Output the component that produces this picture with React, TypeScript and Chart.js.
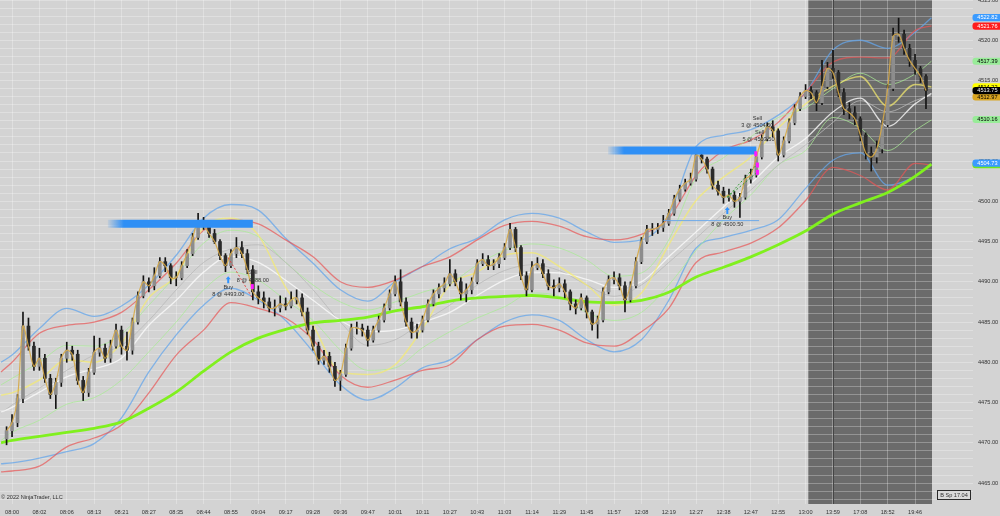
import { useEffect, useRef } from 'react';
import { Chart, registerables } from 'chart.js';

Chart.register(...registerables);

// ---------- DATA ----------
const TIME_LABELS = ['08:00','08:02','08:06','08:13','08:21','08:27','08:35','08:44','08:55','09:04','09:17','09:28','09:36','09:47','10:01','10:11','10:27','10:43','11:03','11:14','11:29','11:45','11:57','12:08','12:19','12:27','12:38','12:47','12:55','13:00','13:59','17:08','18:52','19:46'];
const BARS_PER_LABEL = 5;
const FIRST_BAR = -1;
const FIRST_OPEN = 4470.5;

const CLOSES = [
  4471.5, 4472.5, 4475.5, 4484.5, 4482.0, 4479.5, 4480.5, 4478.0, 4476.0, 4477.5,
  4480.5, 4481.5, 4481.0, 4477.75, 4476.25, 4478.75, 4481.25, 4481.75, 4480.5, 4482.0,
  4484.0, 4482.0, 4481.5, 4485.0, 4488.25, 4490.0, 4489.5, 4490.75, 4492.5, 4492.0,
  4490.5, 4490.5, 4492.0, 4493.5, 4495.5, 4497.5, 4497.0, 4496.0, 4495.0, 4493.25,
  4492.0, 4493.5, 4494.25, 4493.5, 4491.5, 4488.75, 4488.0, 4487.5, 4486.75, 4486.75,
  4487.25, 4487.0, 4487.75, 4488.0, 4486.25, 4484.0, 4482.0, 4480.25, 4480.75, 4479.5,
  4477.75, 4478.5, 4481.75, 4484.25, 4484.25, 4484.0, 4482.75, 4484.0, 4485.25, 4486.75,
  4488.5, 4490.0, 4487.5, 4485.0, 4483.75, 4484.0, 4485.25, 4487.25, 4488.5, 4489.25,
  4489.75, 4491.0, 4490.0, 4488.5, 4489.0, 4490.0, 4492.25, 4492.75, 4492.0, 4492.25,
  4493.0, 4494.25, 4496.5, 4494.25, 4490.75, 4489.0, 4491.75, 4492.25, 4491.0, 4489.5,
  4489.25, 4489.75, 4488.75, 4487.25, 4486.75, 4488.0, 4486.25, 4484.75, 4485.25, 4488.75,
  4490.25, 4490.5, 4489.5, 4487.75, 4489.5, 4492.5, 4495.0, 4496.5, 4496.5, 4496.75,
  4497.25, 4498.5, 4500.25, 4501.5, 4502.25, 4502.75, 4505.75, 4505.25, 4504.0, 4502.0,
  4501.25, 4500.5, 4500.75, 4500.0, 4500.5, 4502.75, 4503.25, 4505.5, 4507.75, 4509.25,
  4508.75, 4505.75, 4507.5, 4509.75, 4511.5, 4513.0, 4513.75, 4513.5, 4512.25, 4514.25,
  4516.5, 4516.0, 4513.5, 4511.5, 4511.0, 4510.25, 4508.25, 4506.0, 4505.5, 4506.5,
  4509.5, 4514.0, 4520.5, 4520.75, 4519.0, 4517.5, 4516.5, 4515.5, 4513.75
];
const HIGHS = [
  4472.0, 4473.5, 4476.0, 4486.25, 4485.5, 4482.5, 4481.75, 4481.0, 4478.5, 4478.0,
  4481.0, 4482.5, 4482.0, 4481.5, 4478.25, 4479.25, 4483.25, 4483.0, 4482.25, 4482.75,
  4484.75, 4484.5, 4483.75, 4485.5, 4488.75, 4490.75, 4490.5, 4491.75, 4493.0, 4493.0,
  4492.25, 4491.25, 4492.5, 4494.0, 4496.0, 4498.5, 4498.0, 4497.5, 4496.5, 4495.25,
  4493.5, 4494.0, 4495.5, 4495.0, 4494.0, 4492.0, 4489.5, 4488.75, 4488.0, 4487.75,
  4488.25, 4488.0, 4488.75, 4489.0, 4488.5, 4486.75, 4484.5, 4482.5, 4481.5, 4481.25,
  4480.0, 4479.0, 4482.25, 4484.75, 4485.0, 4484.75, 4484.5, 4484.5, 4485.75, 4487.25,
  4489.0, 4490.75, 4491.5, 4488.0, 4485.5, 4484.75, 4485.75, 4487.75, 4489.0, 4489.75,
  4490.5, 4492.75, 4491.5, 4490.5, 4489.75, 4490.5, 4492.75, 4493.5, 4493.25, 4492.75,
  4493.5, 4494.75, 4497.25, 4496.75, 4494.5, 4491.25, 4492.5, 4493.0, 4492.75, 4491.5,
  4490.25, 4490.5, 4490.25, 4489.0, 4487.75, 4488.5, 4488.25, 4486.5, 4485.75, 4489.25,
  4490.75, 4491.25, 4491.0, 4490.0, 4490.0, 4493.0, 4495.5, 4497.0, 4497.25, 4497.25,
  4498.25, 4499.0, 4500.75, 4502.0, 4502.75, 4503.5, 4506.5, 4506.25, 4505.5, 4504.25,
  4502.5, 4501.75, 4501.5, 4501.25, 4501.0, 4503.25, 4504.0, 4506.0, 4508.25, 4509.75,
  4510.0, 4509.0, 4508.0, 4510.25, 4512.0, 4513.5, 4514.5, 4514.25, 4513.75, 4517.5,
  4517.25, 4518.75, 4516.25, 4514.0, 4512.25, 4511.75, 4510.5, 4508.5, 4506.75, 4507.5,
  4510.0, 4514.5, 4521.5, 4522.75, 4521.25, 4519.5, 4518.25, 4516.75, 4515.75
];
const LOWS = [
  4469.75, 4470.75, 4472.0, 4475.0, 4481.5, 4479.0, 4479.0, 4477.5, 4475.5, 4474.25,
  4477.0, 4480.0, 4480.25, 4477.25, 4475.25, 4475.75, 4478.5, 4480.75, 4480.0, 4480.0,
  4481.75, 4481.0, 4480.25, 4481.0, 4484.75, 4488.0, 4488.75, 4489.0, 4490.5, 4491.25,
  4489.75, 4489.5, 4490.25, 4491.75, 4493.25, 4495.25, 4496.5, 4495.5, 4494.75, 4492.75,
  4491.25, 4491.75, 4493.0, 4493.0, 4491.0, 4487.75, 4487.25, 4486.75, 4486.25, 4485.75,
  4486.25, 4486.5, 4486.75, 4487.25, 4485.75, 4483.5, 4481.5, 4479.75, 4479.75, 4478.75,
  4477.0, 4476.5, 4478.25, 4481.5, 4483.5, 4483.25, 4482.0, 4482.5, 4483.75, 4485.0,
  4486.5, 4488.25, 4487.0, 4484.5, 4483.0, 4483.0, 4483.75, 4485.0, 4487.0, 4488.0,
  4488.75, 4489.5, 4489.5, 4487.75, 4487.5, 4488.5, 4489.75, 4492.0, 4491.5, 4491.5,
  4491.75, 4492.75, 4494.0, 4493.75, 4490.25, 4488.25, 4488.75, 4491.5, 4490.5, 4489.0,
  4488.25, 4488.75, 4488.0, 4486.5, 4486.0, 4486.5, 4485.5, 4484.0, 4483.0, 4485.0,
  4488.5, 4489.75, 4489.0, 4486.25, 4487.5, 4489.25, 4492.25, 4494.75, 4495.75, 4496.0,
  4496.25, 4497.0, 4498.25, 4500.0, 4501.25, 4502.0, 4502.5, 4504.75, 4503.5, 4501.5,
  4500.75, 4499.75, 4500.0, 4499.25, 4498.0, 4500.25, 4502.25, 4503.0, 4505.25, 4507.5,
  4508.0, 4505.0, 4505.5, 4507.25, 4509.5, 4511.25, 4512.75, 4512.75, 4511.25, 4512.0,
  4514.0, 4515.25, 4513.0, 4510.75, 4510.25, 4509.5, 4507.5, 4505.25, 4503.75, 4504.75,
  4506.0, 4509.25, 4513.75, 4519.75, 4518.25, 4516.75, 4515.75, 4514.75, 4511.5
];

// indicator lines, read at these bar positions
const BAND_X = [-2, 0, 5, 10, 15, 20, 25, 30, 35, 40, 45, 50, 55, 60, 65, 70, 75, 80, 85, 90, 95, 100, 105, 110, 115, 120, 125, 130, 135, 140, 145, 150, 155, 160, 165, 168];
const BLUE_UPPER = [4480.0, 4480.9, 4484.2, 4486.7, 4485.7, 4487.0, 4489.6, 4493.3, 4497.9, 4499.6, 4498.9, 4495.4, 4492.3, 4489.0, 4487.6, 4490.0, 4491.9, 4494.1, 4495.4, 4497.7, 4498.5, 4497.9, 4496.2, 4494.9, 4495.2, 4498.3, 4506.8, 4508.2, 4508.9, 4510.7, 4513.5, 4518.8, 4520.0, 4519.0, 4521.0, 4522.8];
const RED_UPPER = [4478.8, 4480.0, 4483.6, 4484.6, 4485.0, 4486.2, 4489.0, 4492.3, 4496.4, 4497.7, 4497.2, 4495.2, 4493.1, 4490.0, 4489.3, 4490.2, 4491.9, 4493.1, 4495.2, 4497.0, 4497.5, 4496.9, 4495.6, 4495.2, 4495.9, 4497.9, 4503.2, 4506.3, 4507.6, 4509.8, 4513.5, 4517.3, 4517.9, 4517.8, 4521.2, 4521.8];
const YELLOW_MA = [4475.9, 4476.2, 4477.8, 4480.3, 4480.0, 4482.4, 4488.0, 4490.8, 4496.7, 4497.9, 4495.8, 4489.3, 4484.6, 4478.8, 4478.5, 4479.7, 4484.2, 4489.6, 4491.2, 4493.3, 4493.6, 4491.9, 4489.6, 4487.1, 4488.6, 4494.6, 4500.1, 4503.0, 4505.5, 4509.1, 4512.1, 4514.3, 4515.5, 4511.8, 4514.5, 4514.2];
const WHITE_MA = [4473.8, 4474.4, 4476.3, 4478.2, 4479.2, 4480.5, 4484.6, 4487.7, 4491.2, 4493.2, 4492.4, 4490.2, 4487.7, 4485.2, 4483.8, 4484.0, 4485.0, 4486.2, 4488.3, 4490.2, 4491.2, 4491.1, 4490.3, 4489.3, 4490.0, 4493.1, 4496.2, 4499.3, 4502.2, 4505.5, 4507.8, 4511.1, 4512.8, 4509.3, 4512.1, 4513.4];
const GRAY_MA = [4473.7, 4474.7, 4476.8, 4479.0, 4480.9, 4482.1, 4485.2, 4489.0, 4492.4, 4494.1, 4494.6, 4492.4, 4489.0, 4485.0, 4482.1, 4482.8, 4485.0, 4487.1, 4489.6, 4491.4, 4492.1, 4491.4, 4489.6, 4488.2, 4489.6, 4492.4, 4495.4, 4498.5, 4501.4, 4504.5, 4507.0, 4509.8, 4512.5, 4511.1, 4512.5, 4513.2];
const GREEN_UPPER = [4477.2, 4478.0, 4480.0, 4482.1, 4482.0, 4483.5, 4487.1, 4490.8, 4494.8, 4496.4, 4495.6, 4492.4, 4489.6, 4487.5, 4486.5, 4487.5, 4488.7, 4489.8, 4492.1, 4493.9, 4494.7, 4494.2, 4492.7, 4490.7, 4491.1, 4495.2, 4502.9, 4505.4, 4508.0, 4510.4, 4511.6, 4514.0, 4515.9, 4514.5, 4515.8, 4517.4];
const GREEN_LOWER = [4470.3, 4471.3, 4472.8, 4474.8, 4475.6, 4477.8, 4481.3, 4485.0, 4489.0, 4491.2, 4490.2, 4487.7, 4485.2, 4481.5, 4479.0, 4479.3, 4481.8, 4483.8, 4485.5, 4486.9, 4488.6, 4488.2, 4486.2, 4485.2, 4486.2, 4489.6, 4493.9, 4497.7, 4500.8, 4504.5, 4506.3, 4510.4, 4509.1, 4506.3, 4508.8, 4510.1];
const RED_LOWER = [4466.4, 4466.5, 4467.1, 4469.5, 4470.6, 4472.2, 4476.2, 4480.9, 4484.0, 4487.4, 4486.7, 4485.5, 4482.8, 4478.4, 4476.9, 4477.8, 4479.0, 4479.7, 4482.8, 4484.5, 4484.7, 4484.0, 4482.4, 4482.0, 4483.8, 4486.7, 4492.4, 4493.7, 4494.8, 4496.7, 4500.1, 4504.2, 4503.2, 4501.4, 4504.7, 4504.5];
const BLUE_LOWER = [4467.4, 4467.5, 4468.1, 4468.9, 4469.9, 4473.1, 4478.8, 4483.4, 4487.1, 4489.2, 4487.7, 4485.2, 4481.3, 4477.2, 4475.3, 4476.8, 4479.3, 4480.3, 4482.8, 4485.0, 4485.9, 4485.2, 4482.8, 4481.3, 4482.8, 4487.7, 4494.2, 4495.5, 4496.4, 4497.7, 4501.6, 4505.1, 4506.0, 4502.0, 4503.1, 4504.6];
const SMA_LONG = [4470.0, 4470.3, 4470.8, 4471.3, 4471.8, 4472.6, 4474.3, 4476.3, 4478.9, 4481.3, 4483.0, 4484.1, 4484.9, 4485.2, 4485.6, 4486.4, 4486.9, 4487.6, 4488.0, 4488.2, 4488.3, 4488.0, 4487.5, 4487.4, 4487.7, 4488.7, 4490.6, 4491.8, 4493.1, 4494.6, 4496.3, 4498.4, 4499.8, 4501.1, 4503.1, 4504.6];

// drawn objects (bar index / price)
const ZONE_FROM = [17.5, 108.9];
const ZONE_TO = [44, 136];
const ZONE_PRICE = [4497.2, 4506.3];
const STOP_LINE = [119, 136.5, 4497.6];
const DARK_START = 145.5;
const SESSION_BREAK = 150;

const TRADE_LINE_FROM = [[39.5, 4493.0], [130.7, 4500.5], [130.7, 4500.5]];
const TRADE_LINE_TO = [[43.9, 4488.0], [136.0, 4504.5], [136.0, 4503.5]];
const TRADE_LINE_WIN = [false, true, true];
const TRADE_TEXT = ['Buy', '8 @ 4493.00', 'Sell', '8 @ 4488.00', 'Buy', '8 @ 4500.50', 'Sell', '3 @ 4504.50', 'Sell', '5 @ 4503.50'];
const TRADE_TEXT_X = [39.5, 39.5, 44.0, 44.0, 130.7, 130.7, 136.2, 136.2, 136.6, 136.4];
const TRADE_TEXT_Y = [4489.35, 4488.45, 4491.2, 4490.2, 4498.0, 4497.15, 4510.3, 4509.45, 4508.6, 4507.7];
const BUY_ARROW_X = [39.5, 130.7];
const BUY_ARROW_Y = [4490.7, 4499.3];
const SELL_MARK_X = [43.9, 135.9, 136.2, 136.2];
const SELL_MARK_Y = [4489.4, 4505.9, 4504.5, 4503.6];

const MARKER_VALUES = [4504.55, 4504.73, 4510.16, 4514.22, 4512.97, 4513.75, 4517.39, 4521.76, 4522.82];
const MARKER_BG = ['#6fe81e', '#3a9bff', '#98ec98', '#ffff00', '#d9a521', '#000000', '#98ec98', '#ff1c1c', '#3a9bff'];
const MARKER_FG = ['#000', '#fff', '#000', '#000', '#000', '#fff', '#000', '#fff', '#fff'];

const COPYRIGHT = '© 2022 NinjaTrader, LLC';
const STATUS_TEXT = 'B Sp 17.04';

// ---------- STYLE ----------
const BG = '#d3d3d3';
const DARK_BG = '#6b6b6b';
const GRID = 'rgba(255,255,255,0.28)';
const FONT_FAMILY = "'Liberation Sans', Arial, sans-serif";
const SMALL_FONT = `5.6px ${FONT_FAMILY}`;
const TEXT_COLOR = '#333333';

const bars = CLOSES.map((_, i) => FIRST_BAR + i);
const opens = CLOSES.map((_, i) => (i === 0 ? FIRST_OPEN : CLOSES[i - 1]));
const band = (arr: number[]) => BAND_X.map((x, i) => ({ x, y: arr[i] }));

function lineDs(label: string, arr: number[], color: string, width: number, order: number) {
  return {
    type: 'line', label, data: band(arr), borderColor: color, borderWidth: width,
    pointRadius: 0, cubicInterpolationMode: 'monotone', fill: false, order,
  };
}

const overlayPlugin = {
  id: 'overlay',
  beforeDraw(chart: any) {
    const { ctx, chartArea: a, scales } = chart;
    ctx.save();
    ctx.fillStyle = BG;
    ctx.fillRect(0, 0, chart.width, chart.height);
    const x0 = scales.x.getPixelForValue(DARK_START);
    ctx.fillStyle = DARK_BG;
    ctx.fillRect(x0, a.top, a.right - x0, a.bottom - a.top);
    ctx.restore();
  },
  beforeDatasetsDraw(chart: any) {
    const { ctx, chartArea: a, scales } = chart;
    const x = Math.round(scales.x.getPixelForValue(SESSION_BREAK)) + 0.5;
    ctx.save();
    ctx.strokeStyle = '#454545';
    ctx.lineWidth = 1;
    ctx.beginPath();
    ctx.moveTo(x, a.top);
    ctx.lineTo(x, a.bottom);
    ctx.stroke();
    ctx.restore();
  },
  afterDraw(chart: any) {
    const { ctx, scales } = chart;
    const X = (v: number) => scales.x.getPixelForValue(v);
    const Y = (v: number) => scales.y.getPixelForValue(v);
    ctx.save();
    // buy arrows
    ctx.fillStyle = '#2f93ff';
    BUY_ARROW_X.forEach((bx, i) => {
      const x = X(bx), y = Y(BUY_ARROW_Y[i]);
      ctx.beginPath();
      ctx.moveTo(x, y);
      ctx.lineTo(x + 2.5, y + 3);
      ctx.lineTo(x + 1, y + 3);
      ctx.lineTo(x + 1, y + 7);
      ctx.lineTo(x - 1, y + 7);
      ctx.lineTo(x - 1, y + 3);
      ctx.lineTo(x - 2.5, y + 3);
      ctx.closePath();
      ctx.fill();
    });
    // sell marks
    ctx.fillStyle = '#ff1aff';
    SELL_MARK_X.forEach((sx, i) => {
      const x = X(sx), y = Y(SELL_MARK_Y[i]);
      ctx.fillRect(x - 1.5, y - 2.5, 3, 5);
    });
    // trade texts
    ctx.font = SMALL_FONT;
    ctx.fillStyle = TEXT_COLOR;
    ctx.textAlign = 'center';
    ctx.textBaseline = 'middle';
    TRADE_TEXT.forEach((t, i) => ctx.fillText(t, X(TRADE_TEXT_X[i]), Y(TRADE_TEXT_Y[i])));
    // copyright
    ctx.textAlign = 'left';
    ctx.fillText(COPYRIGHT, 1, 497);
    // status box
    ctx.fillStyle = '#dadada';
    ctx.fillRect(937.5, 490.5, 33, 9);
    ctx.strokeStyle = '#2a2a2a';
    ctx.lineWidth = 1;
    ctx.strokeRect(937.5, 490.5, 33, 9);
    ctx.fillStyle = TEXT_COLOR;
    ctx.textAlign = 'center';
    ctx.fillText(STATUS_TEXT, 954, 495.5);
    // right-axis price markers
    MARKER_VALUES.forEach((v, i) => {
      const y = Y(v);
      ctx.fillStyle = MARKER_BG[i];
      ctx.beginPath();
      if (ctx.roundRect) ctx.roundRect(972.5, y - 3.6, 27.5, 7.2, [3, 0, 0, 3]);
      else ctx.rect(972.5, y - 3.6, 27.5, 7.2);
      ctx.fill();
      if (i > 0) {
        ctx.fillStyle = MARKER_FG[i];
        ctx.textAlign = 'right';
        ctx.fillText(v.toFixed(2), 997.5, y + 0.3);
      }
    });
    ctx.restore();
  },
};

export default function App() {
  const ref = useRef<HTMLCanvasElement>(null);
  useEffect(() => {
    const canvas = ref.current;
    if (!canvas) return;
    const zoneColor = (i: number) => (c: any) => {
      const chart = c.chart;
      if (!chart.chartArea || !chart.scales.x) return '#2f8ff5';
      const x1 = chart.scales.x.getPixelForValue(ZONE_FROM[i]);
      const g = chart.ctx.createLinearGradient(x1, 0, x1 + 16, 0);
      g.addColorStop(0, 'rgba(47,143,245,0.1)');
      g.addColorStop(1, 'rgba(47,143,245,1)');
      return g;
    };
    const datasets: any[] = [
      lineDs('Blue upper', BLUE_UPPER, 'rgba(100,165,235,0.75)', 1.3, 20),
      lineDs('Blue lower', BLUE_LOWER, 'rgba(100,165,235,0.75)', 1.3, 20),
      lineDs('Red upper', RED_UPPER, 'rgba(232,85,85,0.7)', 1.3, 19),
      lineDs('Red lower', RED_LOWER, 'rgba(232,85,85,0.7)', 1.3, 19),
      lineDs('Green upper', GREEN_UPPER, 'rgba(170,235,150,0.75)', 1, 18),
      lineDs('Green lower', GREEN_LOWER, 'rgba(170,235,150,0.75)', 1, 18),
      lineDs('Gray MA', GRAY_MA, 'rgba(185,185,185,0.8)', 1, 17),
      lineDs('White MA', WHITE_MA, 'rgba(250,250,250,0.8)', 1.3, 16),
      lineDs('Yellow MA', YELLOW_MA, 'rgba(245,235,110,0.7)', 1.5, 15),
      lineDs('SMA long', SMA_LONG, '#80f01e', 2.8, 14),
      {
        type: 'bar', label: 'Wicks',
        data: bars.map((b, i) => ({ x: b, y: [LOWS[i], HIGHS[i]] })),
        backgroundColor: '#141414', barThickness: 1, grouped: false, order: 8,
      },
      {
        type: 'bar', label: 'Bodies',
        data: bars.map((b, i) => ({ x: b, y: [opens[i], CLOSES[i]] })),
        backgroundColor: CLOSES.map((c, i) => (c >= opens[i] ? '#8d8d8d' : '#2b2b2b')),
        borderColor: '#141414', borderWidth: 0, barThickness: 3, minBarLength: 1,
        grouped: false, order: 7,
      },
      {
        type: 'line', label: 'Fast MA',
        data: bars.map((b, i) => ({ x: b, y: CLOSES[i] })),
        borderColor: 'rgba(214,168,70,0.9)', borderWidth: 1.2, pointRadius: 0, tension: 0.3, order: 6,
      },
      {
        type: 'line', label: 'Stop',
        data: [{ x: STOP_LINE[0], y: STOP_LINE[2] }, { x: STOP_LINE[1], y: STOP_LINE[2] }],
        borderColor: 'rgba(100,165,235,0.9)', borderWidth: 1, pointRadius: 0, order: 5,
      },
      ...ZONE_FROM.map((f, i) => ({
        type: 'line', label: 'Zone ' + (i + 1),
        data: [{ x: f, y: ZONE_PRICE[i] }, { x: ZONE_TO[i], y: ZONE_PRICE[i] }],
        borderColor: zoneColor(i), borderWidth: 8, borderCapStyle: 'butt', pointRadius: 0, order: 4,
      })),
      ...TRADE_LINE_FROM.map((f, i) => ({
        type: 'line', label: 'Trade ' + (i + 1),
        data: [{ x: f[0], y: f[1] }, { x: TRADE_LINE_TO[i][0], y: TRADE_LINE_TO[i][1] }],
        borderColor: TRADE_LINE_WIN[i] ? 'rgba(40,150,40,0.9)' : 'rgba(230,60,60,0.9)',
        borderWidth: 1, borderDash: [2, 2], pointRadius: 0, order: 3,
      })),
    ];

    const chart = new Chart(canvas, {
      type: 'bar',
      data: { datasets },
      options: {
        responsive: false,
        animation: false,
        events: [],
        layout: { padding: 0 },
        plugins: { legend: { display: false }, tooltip: { enabled: false } },
        scales: {
          x: {
            type: 'linear', min: -2.2, max: 168.1, offset: false,
            afterBuildTicks: (s: any) => { s.ticks = TIME_LABELS.map((_, i) => ({ value: i * BARS_PER_LABEL })); },
            afterFit: (s: any) => { s.height = 12; s.paddingLeft = 0; s.paddingRight = 0; },
            ticks: {
              autoSkip: false, maxRotation: 0, minRotation: 0, padding: 5,
              color: TEXT_COLOR, font: { size: 5.6, family: FONT_FAMILY },
              callback: (_v: any, i: number) => TIME_LABELS[i] ?? '',
            },
            grid: { color: GRID, drawTicks: false, offset: false, lineWidth: 1 },
            border: { display: false },
          },
          y: {
            type: 'linear', position: 'right', min: 4462.4, max: 4525, beginAtZero: false,
            afterBuildTicks: (s: any) => {
              const t = [];
              for (let v = 4463; v <= 4525; v++) t.push({ value: v });
              s.ticks = t;
            },
            afterFit: (s: any) => { s.width = 68; s.paddingTop = 0; s.paddingBottom = 0; },
            ticks: {
              autoSkip: false, padding: 5, color: TEXT_COLOR,
              font: { size: 5.6, family: FONT_FAMILY },
              callback: (v: any) => (Math.round(v) % 5 === 0 ? Number(v).toFixed(2) : ''),
            },
            grid: { color: GRID, drawTicks: true, tickLength: 41, lineWidth: 1 },
            border: { display: false },
          },
        },
      } as any,
      plugins: [overlayPlugin],
    } as any);
    return () => chart.destroy();
  }, []);
  return (
    <canvas
      ref={ref}
      width={1000}
      height={516}
      style={{ position: 'absolute', left: 0, top: 0, width: 1000, height: 516, display: 'block' }}
    />
  );
}
